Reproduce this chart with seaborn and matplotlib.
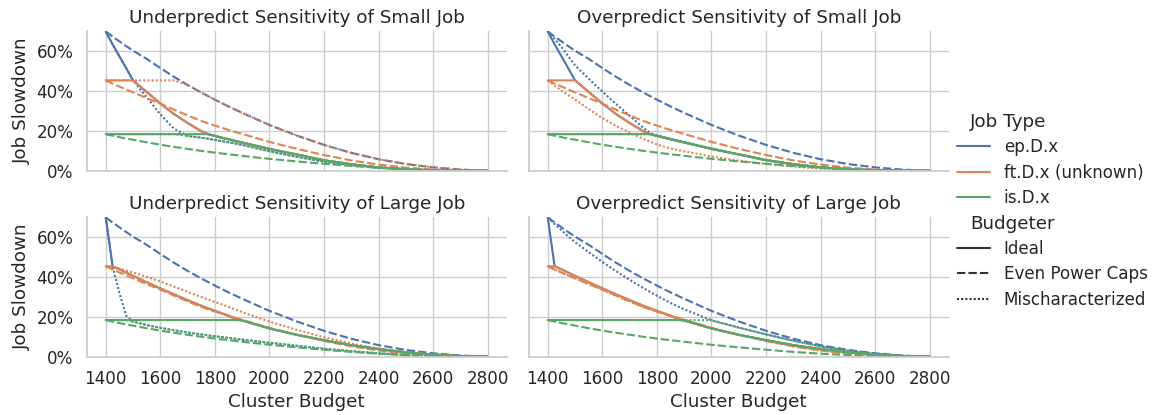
import matplotlib
matplotlib.use("Agg")
import matplotlib.pyplot as plt
from matplotlib.offsetbox import VPacker
from matplotlib.ticker import PercentFormatter
import pandas as pd
import seaborn as sns

# Cluster power budget at which each run was evaluated
BUDGET = [1400, 1425, 1450, 1475, 1500, 1550, 1600, 1650, 1700, 1750, 1775, 1800,
          1850, 1875, 1900, 2000, 2100, 2200, 2300, 2400, 2500, 2600, 2700, 2800]

JOB_TYPES = ["ep.D.x", "ft.D.x (unknown)", "is.D.x"]
BUDGETERS = ["Ideal", "Even Power Caps", "Mischaracterized"]
SCENARIOS = [
    "Underpredict Sensitivity of Small Job",
    "Overpredict Sensitivity of Small Job",
    "Underpredict Sensitivity of Large Job",
    "Overpredict Sensitivity of Large Job",
]

# Job slowdown (%) -- even power caps (independent of prediction error)
EP_EVEN = [70.0, 67.4, 65.0, 62.6, 60.3, 56.2, 51.6, 47.2, 43.1, 39.3, 37.5, 35.7,
           32.3, 30.7, 29.1, 23.0, 17.7, 13.0, 9.0, 5.8, 3.4, 1.7, 0.6, 0.0]
FT_EVEN = [45.4, 43.8, 42.3, 40.8, 39.4, 36.5, 33.7, 30.7, 27.8, 25.0, 23.8, 22.7,
           20.5, 19.5, 18.5, 14.5, 11.0, 7.9, 5.2, 3.1, 1.6, 0.6, 0.1, 0.0]
IS_EVEN = [18.4, 17.6, 16.9, 16.2, 15.6, 14.3, 13.1, 12.0, 11.0, 10.0, 9.6, 9.1,
           8.3, 7.9, 7.5, 6.0, 4.7, 3.5, 2.4, 1.5, 0.8, 0.3, 0.05, 0.0]

# Ideal budgeter, small job
EP_IDEAL_SMALL = [70.0, 63.5, 57.5, 51.5, 45.4, 39.6, 33.8, 28.5, 24.0, 19.9, 18.4, 17.5,
                  15.8, 15.0, 14.2, 11.0, 8.2, 5.3, 3.3, 1.7, 0.8, 0.3, 0.05, 0.0]
FT_IDEAL_SMALL = [45.4, 45.4, 45.4, 45.4, 45.4, 39.6, 33.8, 28.5, 24.0, 19.9, 18.4, 17.5,
                  15.8, 15.0, 14.2, 11.0, 8.2, 5.3, 3.3, 1.7, 0.8, 0.3, 0.05, 0.0]
IS_IDEAL_SMALL = [18.4, 18.4, 18.4, 18.4, 18.4, 18.4, 18.4, 18.4, 18.4, 18.4, 18.4, 17.5,
                  15.8, 15.0, 14.2, 11.0, 8.2, 5.3, 3.3, 1.7, 0.8, 0.3, 0.05, 0.0]

# Ideal budgeter, large job
EP_IDEAL_LARGE = [70.0, 45.4, 43.9, 42.2, 40.6, 37.4, 34.3, 31.3, 28.4, 25.6, 24.3, 23.0,
                  20.6, 19.1, 18.2, 14.2, 11.0, 8.3, 5.8, 3.8, 2.2, 1.1, 0.3, 0.0]
FT_IDEAL_LARGE = [45.4, 45.4, 43.9, 42.2, 40.6, 37.4, 34.3, 31.3, 28.4, 25.6, 24.3, 23.0,
                  20.6, 19.1, 18.2, 14.2, 11.0, 8.3, 5.8, 3.8, 2.2, 1.1, 0.3, 0.0]
IS_IDEAL_LARGE = [18.4, 18.4, 18.4, 18.4, 18.4, 18.4, 18.4, 18.4, 18.4, 18.4, 18.4, 18.4,
                  18.4, 18.4, 18.2, 14.2, 11.0, 8.3, 5.8, 3.8, 2.2, 1.1, 0.3, 0.0]

# Mischaracterized budgeter, underpredicted small job
EP_MIS_US = [70.0, 63.5, 57.5, 51.5, 45.4, 37.0, 28.3, 21.2, 17.5, 16.6, 16.1, 15.5,
             14.3, 13.7, 13.0, 9.8, 7.0, 4.6, 2.8, 1.5, 0.7, 0.2, 0.05, 0.0]
FT_MIS_US = [45.4, 45.4, 45.4, 45.4, 45.4, 45.4, 45.4, 45.4, 43.1, 39.3, 37.5, 35.7,
             32.3, 30.7, 29.1, 23.0, 17.7, 13.0, 9.0, 5.8, 3.4, 1.7, 0.6, 0.0]
IS_MIS_US = [18.4, 18.4, 18.4, 18.4, 18.4, 18.4, 18.4, 18.4, 17.5, 16.6, 16.1, 15.5,
             14.3, 13.7, 13.0, 9.8, 7.0, 4.6, 2.8, 1.5, 0.7, 0.2, 0.05, 0.0]

# Mischaracterized budgeter, overpredicted small job
EP_MIS_OS = [70.0, 66.2, 62.2, 57.6, 53.0, 46.2, 39.8, 33.6, 27.6, 21.6, 19.0, 17.8,
             16.1, 15.3, 14.5, 11.2, 8.3, 5.5, 3.4, 1.8, 0.8, 0.3, 0.05, 0.0]
FT_MIS_OS = [45.4, 42.8, 40.3, 38.0, 35.8, 31.0, 26.4, 22.6, 19.2, 16.0, 14.6, 13.2,
             11.2, 10.4, 9.7, 7.2, 5.1, 3.4, 2.1, 1.1, 0.5, 0.15, 0.0, 0.0]
IS_MIS_OS = [18.4, 18.4, 18.4, 18.4, 18.4, 18.4, 18.4, 18.4, 18.4, 18.4, 18.4, 17.8,
             16.1, 15.3, 14.5, 11.2, 8.3, 5.5, 3.4, 1.8, 0.8, 0.3, 0.05, 0.0]

# Mischaracterized budgeter, underpredicted large job
EP_MIS_UL = [70.0, 45.4, 32.0, 20.5, 17.6, 15.9, 14.5, 13.3, 12.2, 11.2, 10.7, 10.3,
             9.4, 9.0, 8.6, 7.0, 5.5, 4.0, 2.8, 1.7, 0.9, 0.35, 0.05, 0.0]
FT_MIS_UL = [45.4, 45.0, 44.2, 43.3, 42.3, 40.1, 37.8, 35.2, 32.6, 30.0, 28.7, 27.5,
             25.0, 23.7, 22.4, 17.6, 13.5, 9.8, 6.6, 4.1, 2.2, 0.9, 0.2, 0.0]
IS_MIS_UL = [18.4, 18.4, 18.4, 18.4, 17.6, 15.9, 14.5, 13.3, 12.2, 11.2, 10.7, 10.3,
             9.4, 9.0, 8.6, 7.0, 5.5, 4.0, 2.8, 1.7, 0.9, 0.35, 0.05, 0.0]

# Mischaracterized budgeter, overpredicted large job
EP_MIS_OL = [70.0, 66.6, 63.5, 60.4, 57.5, 52.5, 47.6, 43.0, 38.6, 34.5, 32.5, 30.6,
             27.0, 25.4, 23.8, 18.3, 14.6, 11.2, 8.0, 5.2, 3.0, 1.4, 0.4, 0.0]
FT_MIS_OL = [45.4, 43.8, 42.3, 40.8, 39.4, 36.5, 33.7, 30.7, 27.8, 25.0, 23.8, 22.7,
             20.5, 19.5, 18.5, 14.5, 11.0, 7.9, 5.2, 3.1, 1.6, 0.6, 0.1, 0.0]
IS_MIS_OL = [18.4, 18.4, 18.4, 18.4, 18.4, 18.4, 18.4, 18.4, 18.4, 18.4, 18.4, 18.4,
             18.4, 18.4, 18.4, 18.3, 14.6, 11.2, 8.0, 5.2, 3.0, 1.4, 0.4, 0.0]

# (ideal, even, mischaracterized) per scenario and job type
curves = {
    SCENARIOS[0]: [(EP_IDEAL_SMALL, EP_EVEN, EP_MIS_US),
                   (FT_IDEAL_SMALL, FT_EVEN, FT_MIS_US),
                   (IS_IDEAL_SMALL, IS_EVEN, IS_MIS_US)],
    SCENARIOS[1]: [(EP_IDEAL_SMALL, EP_EVEN, EP_MIS_OS),
                   (FT_IDEAL_SMALL, FT_EVEN, FT_MIS_OS),
                   (IS_IDEAL_SMALL, IS_EVEN, IS_MIS_OS)],
    SCENARIOS[2]: [(EP_IDEAL_LARGE, EP_EVEN, EP_MIS_UL),
                   (FT_IDEAL_LARGE, FT_EVEN, FT_MIS_UL),
                   (IS_IDEAL_LARGE, IS_EVEN, IS_MIS_UL)],
    SCENARIOS[3]: [(EP_IDEAL_LARGE, EP_EVEN, EP_MIS_OL),
                   (FT_IDEAL_LARGE, FT_EVEN, FT_MIS_OL),
                   (IS_IDEAL_LARGE, IS_EVEN, IS_MIS_OL)],
}

records = []
for scenario, per_job in curves.items():
    for job, series in zip(JOB_TYPES, per_job):
        for budgeter, values in zip(BUDGETERS, series):
            for budget, slowdown in zip(BUDGET, values):
                records.append((scenario, job, budgeter, budget, slowdown))
df = pd.DataFrame(records, columns=["Scenario", "Job Type", "Budgeter",
                                    "Cluster Budget", "Job Slowdown"])

sns.set_theme(style="whitegrid", font_scale=1.1)
plt.rcParams["legend.labelspacing"] = 0.44

g = sns.relplot(
    data=df, x="Cluster Budget", y="Job Slowdown",
    hue="Job Type", style="Budgeter",
    hue_order=JOB_TYPES, style_order=BUDGETERS,
    col="Scenario", col_order=SCENARIOS, col_wrap=2,
    kind="line", errorbar=None, height=2.0, aspect=3.0,
)
g.set_titles("{col_name}")
g.set(ylim=(0, 70), xticks=list(range(1400, 2801, 200)), yticks=[0, 20, 40, 60])
g.axes[0].yaxis.set_major_formatter(PercentFormatter(100, decimals=0))
for i, ax in enumerate(g.axes.flat):
    if i % 2 == 1:
        ax.tick_params(labelleft=False)
    if i < 2:
        ax.tick_params(labelbottom=False)

# Section headers in the legend: drop the blank handle and use the title size
leg = g.legend
subtitles = {"Job Type", "Budgeter"}
rows = leg.findobj(VPacker)[0].get_children()
for row in rows:
    draw_area, text_area = row.get_children()
    texts = text_area.get_children()
    if any(t.get_text() in subtitles for t in texts):
        draw_area.set_width(0)
        for t in texts:
            t.set_fontsize(plt.rcParams["legend.title_fontsize"])

g.figure.set_size_inches(11.57, 4.15)
g.figure.subplots_adjust(left=0.0749, right=0.8201, top=0.9243, bottom=0.1405,
                         wspace=0.052, hspace=0.334)
leg.set_bbox_to_anchor((1.005, 0.492), transform=g.figure.transFigure)
g.figure.savefig("out.png", dpi=100)
